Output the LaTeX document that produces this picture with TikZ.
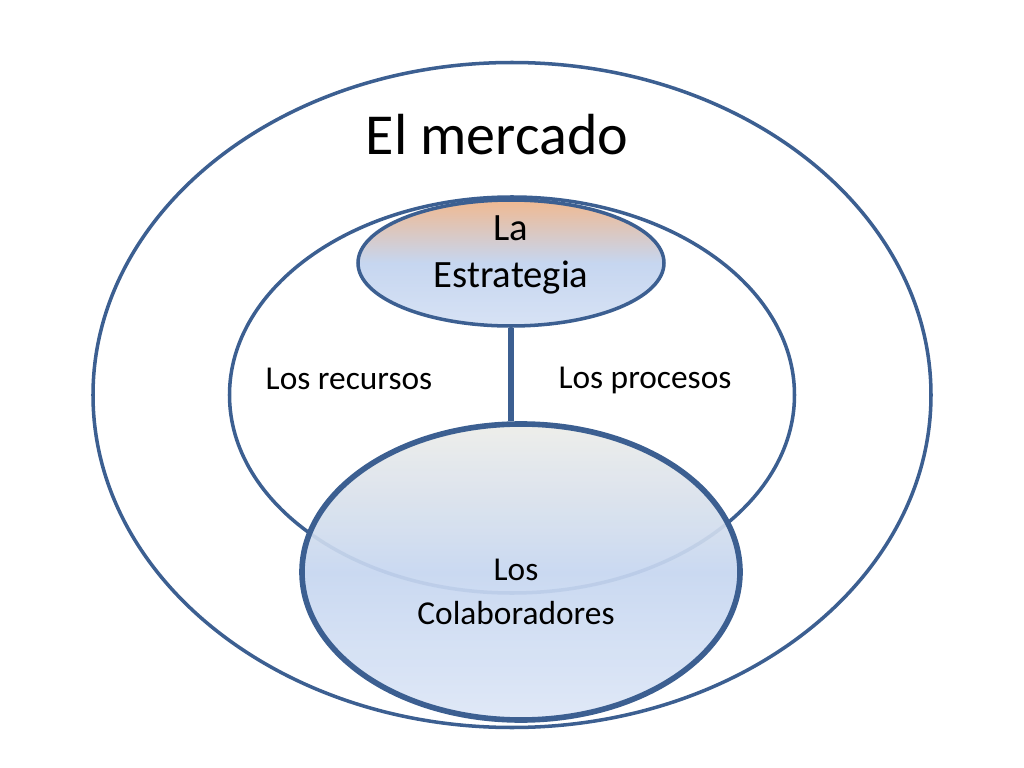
\documentclass[tikz,border=0pt]{standalone}
\usepackage{fontspec}
\setmainfont{Carlito}
\usepackage{xcolor}
\usetikzlibrary{shapes.geometric}
\definecolor{rim}{RGB}{60,95,145}
\definecolor{paleblue}{RGB}{198,214,240}
\definecolor{peach}{RGB}{240,185,145}
\definecolor{mist}{RGB}{236,236,232}
\begin{document}
\begin{tikzpicture}[every node/.style={shape=ellipse, draw=rim, line width=1pt, inner sep=0pt},
  label/.style={draw=none, shape=rectangle, align=center, font=\fontsize{9.5}{12.5}\selectfont}]
			% Frame
			\useasboundingbox (0,0) rectangle (10.24,-7.68);
			% Ellipses
			\node (mercado) at (5.12,-3.95) [minimum width=8.38cm, minimum height=6.65cm] {};
			\node (medio) at (5.12,-3.95) [minimum width=5.65cm, minimum height=3.96cm] {};
			\node (estrategia) at (5.11,-2.63) [minimum width=3.06cm, minimum height=1.26cm, top color=peach, bottom color=paleblue!70, middle color=paleblue] {};
			\node (colab) at (5.21,-5.72) [minimum width=4.38cm, minimum height=2.96cm, line width=1.6pt, top color=mist, bottom color=paleblue!60, middle color=paleblue, fill opacity=0.92] {};
			% Link
			\draw[rim, line width=1.8pt] (estrategia.south) -- (estrategia.south |- colab.north);
			% Texts
			\node[label, font=\fontsize{16.5}{19}\selectfont] (titulo) at (4.97,-1.35) {El mercado};
			\node[label, font=\fontsize{11}{13.5}\selectfont] (estr) at (5.11,-2.55) {La\\Estrategia};
			\node[label] (recursos) at (3.49,-3.79) {Los recursos};
			\node[label] (procesos) at (6.45,-3.80) {Los procesos};
			\node[label] (colabtext) at (5.16,-5.92) {Los\\Colaboradores};
		\end{tikzpicture}
\end{document}
